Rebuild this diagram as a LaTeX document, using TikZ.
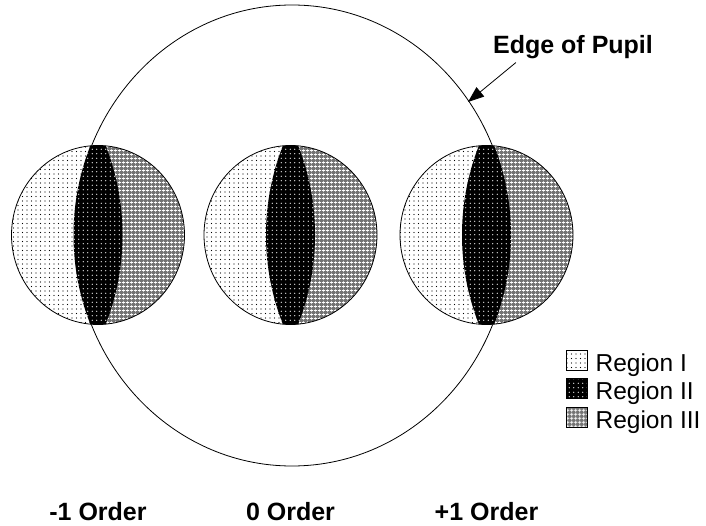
\documentclass[tikz,border=0pt]{standalone}
\usepackage{fontspec}
\setmainfont{Liberation Sans}
\usetikzlibrary{arrows.meta}
\usetikzlibrary{patterns.meta}
\usetikzlibrary{positioning}

\tikzset{
  regionone/.style={preaction={fill=white},pattern={Dots[distance=4.5pt,radius=0.55pt]},pattern color=black},
  regiontwo/.style={preaction={fill=black},pattern={Dots[distance=4.5pt,radius=0.6pt,xshift=2.2pt,yshift=2.2pt]},pattern color=white},
  regionthree/.style={preaction={fill=black!55},pattern={Hatch[angle=0,distance=4pt,line width=0.9pt]},pattern color=white},
  bigtext/.style={font=\fontsize{25}{30}\selectfont\bfseries,inner sep=0pt},
  legbox/.style={draw,line width=0.8pt,minimum width=21pt,minimum height=20pt,inner sep=0pt},
  legtext/.style={font=\fontsize{24.5}{29}\selectfont,inner sep=0pt},
}

\begin{document}
\begin{tikzpicture}[x=1pt,y=1pt]
\useasboundingbox (0,0) rectangle (706,525);
% edge of the pupil
\draw[line width=0.8pt] (292,289.5) ellipse [x radius=217.5,y radius=230.5];
% the three orders
\foreach \cx/\name/\txt in {98/minus/-1 Order,290.5/zero/0 Order,486.5/plus/+1 Order}{
  \begin{scope}
    \clip (\cx,290) ellipse [x radius=86.5,y radius=89.5];
    \path[regionone] (\cx-90,195) rectangle (\cx,385);
    \path[regionthree] (\cx,195) rectangle (\cx+90,385);
    \clip (\cx-219.5,290) circle [radius=244];
    \path[regiontwo] (\cx+219.5,290) circle [radius=244];
  \end{scope}
  \draw[line width=0.8pt] (\cx,290) ellipse [x radius=86.5,y radius=89.5];
  \node[bigtext,anchor=base] (\name) at (\cx,5) {\txt};
}
\node[bigtext,anchor=base] (pupil) at (573,471) {Edge of Pupil};
\coordinate (edge) at (468,423);
\draw[-{Triangle[length=16pt,width=12pt]},line width=0.8pt] ([shift={(23pt,-3pt)}]pupil.south west) -- (edge);
% legend
\node[legbox,regionone] (boxone) at (576.5,165) {};
\node[legbox,regiontwo] (boxtwo) at (576.5,136.5) {};
\node[legbox,regionthree] (boxthree) at (576.5,108) {};
\node[legtext,right=8pt of boxone,yshift=-5pt] (textone) {Region I};
\node[legtext,right=8pt of boxtwo,yshift=-5pt] (texttwo) {Region II};
\node[legtext,right=8pt of boxthree,yshift=-5pt] (textthree) {Region III};
\end{tikzpicture}
\end{document}
